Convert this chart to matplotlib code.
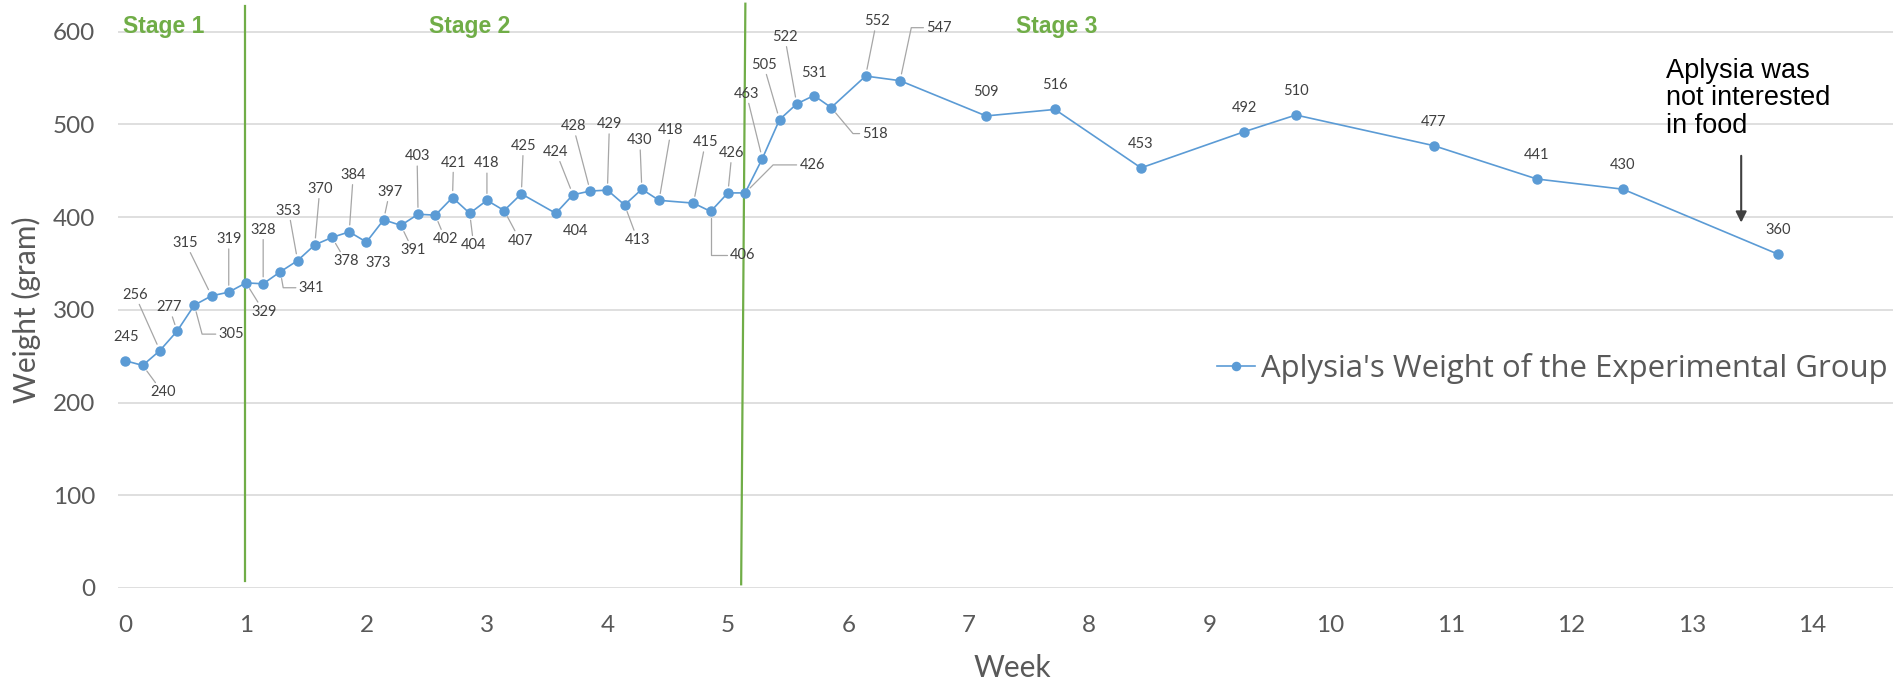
import matplotlib.pyplot as plt
import numpy as np

plt.rcParams['font.family'] = ['Lato', 'DejaVu Sans']

# weighing day (days from start) and weight in gram
days = [0, 1, 2, 3, 4, 5, 6, 7, 8, 9, 10, 11, 12, 13, 14, 15, 16, 17, 18, 19, 20, 21, 22, 23,
        25, 26, 27, 28, 29, 30, 31,
        33, 34, 35, 36, 37, 38, 39, 40, 41,
        43, 45, 50, 54, 59, 65, 68, 76, 82, 87, 96]
weights = [245, 240, 256, 277, 305, 315, 319, 329, 328, 341, 353, 370, 378, 384, 373, 397, 391, 403,
           402, 421, 404, 418, 407, 425,
           404, 424, 428, 429, 413, 430, 418,
           415, 406, 426, 426, 463, 505, 522, 531, 518,
           552, 547, 509, 516, 453, 492, 510, 477, 441, 430, 360]

series_name = "Aplysia's Weight of the Experimental Group"
stage_names = ['Stage 1', 'Stage 2', 'Stage 3']
note = 'Aplysia was\nnot interested\nin food'

# label placement (pixels from the point, +dy = downwards) and leader type
# 0 = no leader, 1 = straight leader, other = elbow leader with that angle at the point
label_offsets = [(1, -24), (20, 27), (-25, -56), (-8, -24), (37, 29), (-26, -53), (0, -53), (18, 29),
                 (0, -54), (31, 16), (-9, -50), (5, -56), (14, 24), (4, -57), (12, 21), (6, -28),
                 (12, 25), (-1, -58), (10, 24), (1, -35), (4, 32), (0, -37), (16, 30), (2, -48),
                 (20, 18), (-17, -43), (-17, -65), (2, -66), (13, 35), (-2, -49), (12, -70),
                 (12, -61), (32, 44), (4, -40), (67, -28), (-16, -65), (-16, -55), (-12, -67),
                 (0, -23), (44, 26),
                 (11, -55), (39, -53)] + [(0, -24)] * 9
leaders = [0, 1, 1, 1, -75, 1, 1, 1,
           1, -80, 1, 1, 1, 1, 0, 1,
           1, 1, 1, 1, 1, 1, 1, 1,
           0, 1, 1, 1, 1, 1, 1,
           1, 90, 1, 45, 1, 1, 1,
           0, -50,
           1, 78] + [0] * 9

weeks = np.array(days) / 7.0

fig = plt.figure(figsize=(18.93, 6.86), dpi=100)
ax = fig.add_axes([118 / 1893, 98 / 686, 1775 / 1893, 588 / 686])
ax.set_xlim(-0.062, 14.67)
ax.set_ylim(0, 634)
ax.set_xticks(range(15))
ax.set_yticks(range(0, 700, 100))
ax.grid(axis='y', color='#d9d9d9', lw=1.2)
ax.set_axisbelow(True)
for s in ax.spines.values():
    s.set_visible(False)
ax.tick_params(axis='both', length=0, labelsize=17.5, labelcolor='#595959')
ax.tick_params(axis='y', pad=16.5)
ax.tick_params(axis='x', pad=19.5)

ax.set_ylabel('Weight (gram)', fontsize=21.5, color='#595959', va='center')
ax.yaxis.set_label_coords(-0.0513, 0.473)
ax.set_xlabel('Week', fontsize=21.5, color='#595959', va='center')
ax.xaxis.set_label_coords(0.504, -0.136)

# stage boundaries
green = '#70ad47'
ax.plot([0.99, 0.99], [8, 627], color=green, lw=1.6, clip_on=False)
ax.plot([5.11, 5.145], [4, 630], color=green, lw=1.6, clip_on=False)
for name, xs in zip(stage_names, [0.32, 2.86, 7.73]):
    ax.text(xs, 605, name, color=green, fontsize=16.5, fontweight='bold',
            family=['Liberation Sans', 'DejaVu Sans'], ha='center', va='center')

ax.plot(weeks, weights, color='#5b9bd5', lw=1.2, marker='o', ms=6.5,
        mfc='#5b9bd5', mec='#5b9bd5', label=series_name, zorder=3)

for i, (x, y) in enumerate(zip(weeks, weights)):
    dx, dy = label_offsets[i]
    kind = leaders[i]
    arrow = None
    if kind == 1:
        arrow = dict(arrowstyle='-', color='#a6a6a6', lw=0.9, shrinkA=0, shrinkB=5)
    elif kind != 0:
        arrow = dict(arrowstyle='-', color='#a6a6a6', lw=0.9, shrinkA=0, shrinkB=5,
                     connectionstyle='angle,angleA=0,angleB=%d,rad=0' % kind)
    ax.annotate(str(y), (x, y), xytext=(dx, -dy), textcoords='offset pixels',
                ha='center', va='center', fontsize=10.5, color='#404040',
                arrowprops=arrow, zorder=4)

ax.text(12.79, 572, note, fontsize=19.5, family=['Liberation Sans', 'DejaVu Sans'],
        color='black', ha='left', va='top', linespacing=1.08)
ax.annotate('', xy=(13.41, 394), xytext=(13.41, 466),
            arrowprops=dict(arrowstyle='-|>', color='#404040', lw=1.5,
                            mutation_scale=16, shrinkA=0, shrinkB=0))

ax.legend(loc='center left', bbox_to_anchor=(0.619, 0.374), frameon=False,
          prop={'family': ['Open Sans', 'DejaVu Sans'], 'size': 22.4},
          handlelength=1.22, handletextpad=0.2, borderpad=0, borderaxespad=0,
          markerscale=0.9, labelcolor='#595959')

plt.savefig('out.png', dpi=100)
plt.close()
